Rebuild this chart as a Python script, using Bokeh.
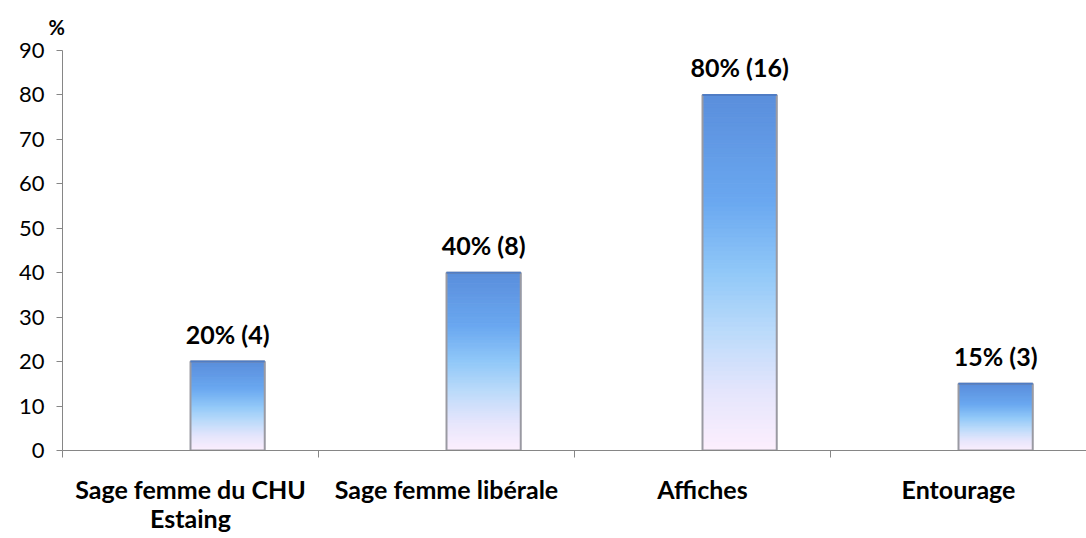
from bokeh.plotting import figure
from bokeh.models import FixedTicker, ColumnDataSource, LabelSet, Range1d
from bokeh.core.properties import value
from bokeh.embed import file_html
from bokeh.resources import INLINE

# ---- data ----
categories = ["Sage femme du CHU\nEstaing", "Sage femme libérale", "Affiches", "Entourage"]
percent = [20, 40, 80, 15]
counts = [4, 8, 16, 3]
y_ticks = [0, 10, 20, 30, 40, 50, 60, 70, 80, 90]

# ---- style / layout ----
FONT = "Lato"
BAR_OFF = 0.5     # bar left edge relative to category start
BAR_W = 0.29
N_SLICES = 80
stops = [(0.0, (253, 239, 253)), (0.17, (228, 229, 252)), (0.34, (186, 218, 250)),
         (0.5, (145, 200, 248)), (0.7, (106, 168, 240)), (1.0, (90, 142, 220))]


def grad(f):
    for (f0, c0), (f1, c1) in zip(stops[:-1], stops[1:]):
        if f0 <= f <= f1:
            t = (f - f0) / (f1 - f0)
            c = tuple(int(round(a + (b - a) * t)) for a, b in zip(c0, c1))
            return "#%02x%02x%02x" % c
    return "#%02x%02x%02x" % stops[-1][1]


p = figure(width=1086, height=538, output_backend="svg", toolbar_location=None,
           x_range=Range1d(0, 4), y_range=Range1d(0, 90),
           min_border_left=62, min_border_right=0, min_border_top=49, min_border_bottom=88,
           title="%")
p.outline_line_color = None
p.xgrid.visible = False
p.ygrid.visible = False
p.title.align = "left"
p.title.offset = -14
p.title.standoff = 24
p.title.text_font = FONT
p.title.text_font_style = "bold"
p.title.text_font_size = "20px"
p.title.text_color = "black"

# gradient bars built from slices
L, R, B, T, C = [], [], [], [], []
for i, v in enumerate(percent):
    for k in range(N_SLICES):
        L.append(i + BAR_OFF)
        R.append(i + BAR_OFF + BAR_W)
        B.append(v * k / N_SLICES)
        T.append(v * (k + 1) / N_SLICES)
        C.append(grad((k + 0.5) / N_SLICES))
p.quad(left=L, right=R, bottom=B, top=T, fill_color=C, line_color=C, line_width=1)

xs_left = [i + BAR_OFF for i in range(len(percent))]
xs_right = [i + BAR_OFF + BAR_W for i in range(len(percent))]
p.quad(left=xs_left, right=xs_right, bottom=[0] * len(percent), top=percent,
       fill_color=None, line_color="#9a9aa2", line_width=2)
p.segment(x0=xs_left, x1=xs_right, y0=percent, y1=percent, line_color="#4f7cc4", line_width=2)

# data labels
src = ColumnDataSource(dict(
    x=[i + BAR_OFF + BAR_W / 2 for i in range(len(percent))],
    y=percent,
    t=["%d%% (%d)" % (pc, n) for pc, n in zip(percent, counts)]))
p.add_layout(LabelSet(x="x", y="y", text="t", source=src, text_align="center",
                      text_baseline="bottom", y_offset=13, text_font=value(FONT),
                      text_font_style="bold", text_font_size="25px", text_color="black"))

# y axis
p.yaxis.ticker = FixedTicker(ticks=y_ticks)
p.yaxis.axis_line_color = "#868686"
p.yaxis.major_tick_line_color = "#868686"
p.yaxis.major_tick_out = 6
p.yaxis.major_tick_in = 0
p.yaxis.minor_tick_line_color = None
p.yaxis.major_label_text_font = FONT
p.yaxis.major_label_text_font_size = "22px"
p.yaxis.major_label_text_color = "black"
p.yaxis.major_label_standoff = 12

# x axis
centers = [i + 0.5 for i in range(len(categories))]
p.xaxis.ticker = FixedTicker(ticks=centers, minor_ticks=list(range(len(categories) + 1)))
p.xaxis.major_label_overrides = {c: lab for c, lab in zip(centers, categories)}
p.xaxis.axis_line_color = "#868686"
p.xaxis.major_tick_line_color = None
p.xaxis.major_tick_out = 0
p.xaxis.major_tick_in = 0
p.xaxis.minor_tick_line_color = "#868686"
p.xaxis.minor_tick_out = 7
p.xaxis.minor_tick_in = 0
p.xaxis.major_label_text_font = FONT
p.xaxis.major_label_text_font_style = "bold"
p.xaxis.major_label_text_font_size = "25px"
p.xaxis.major_label_text_color = "black"
p.xaxis.major_label_standoff = 16
p.xaxis.major_label_text_line_height = 0.97

open("out.html", "w").write(file_html(p, INLINE))
